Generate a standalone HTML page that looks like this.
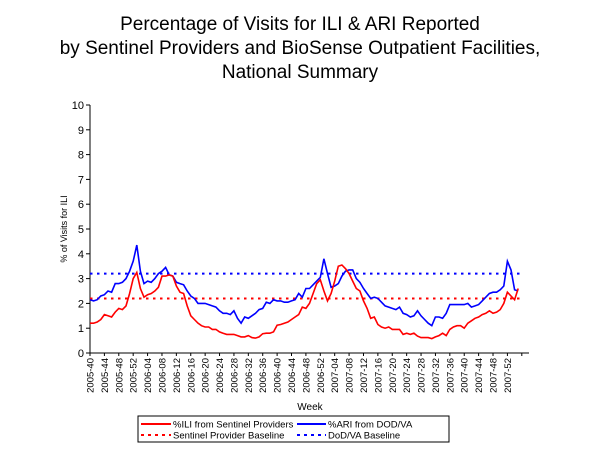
<!DOCTYPE html>
<html><head><meta charset="utf-8"><style>
body{margin:0;background:#fff;}
svg{display:block;font-family:"Liberation Sans",Arial,sans-serif;}
</style></head><body>
<svg id="chart" width="600" height="450">
<text x="300" y="30" font-size="19" text-anchor="middle">Percentage of Visits for ILI &amp; ARI Reported</text>
<text x="300" y="54" font-size="19" text-anchor="middle">by Sentinel Providers and BioSense Outpatient Facilities,</text>
<text x="300" y="78" font-size="19" text-anchor="middle">National Summary</text>
<text transform="translate(67,229) rotate(-90)" font-size="9" text-anchor="middle">% of Visits for ILI</text>
<text x="310" y="410" font-size="10" text-anchor="middle">Week</text>
<g id="plot"></g>
<g>
<rect x="138" y="416" width="311" height="26" fill="#fff" stroke="#000" stroke-width="1"/>
<line x1="141" y1="424" x2="171" y2="424" stroke="#f00" stroke-width="2"/>
<text x="173" y="427.5" font-size="9.5">%ILI from Sentinel Providers</text>
<line x1="297" y1="424" x2="326" y2="424" stroke="#00f" stroke-width="2"/>
<text x="328" y="427.5" font-size="9.5">%ARI from DOD/VA</text>
<line x1="141" y1="435" x2="171" y2="435" stroke="#f00" stroke-width="2" stroke-dasharray="3,4"/>
<text x="173" y="438.5" font-size="9.5">Sentinel Provider Baseline</text>
<line x1="297" y1="435" x2="326" y2="435" stroke="#00f" stroke-width="2" stroke-dasharray="3,4"/>
<text x="328" y="438.5" font-size="9.5">DoD/VA Baseline</text>
</g>
</svg>
<script>
const yTicks=[0,1,2,3,4,5,6,7,8,9,10];
const ili=[1.2,1.2,1.25,1.35,1.55,1.5,1.45,1.65,1.8,1.75,1.9,2.4,3.0,3.25,2.6,2.25,2.35,2.4,2.5,2.65,3.1,3.1,3.15,3.1,2.7,2.45,2.4,1.9,1.5,1.35,1.2,1.1,1.05,1.05,0.95,0.95,0.85,0.8,0.75,0.75,0.75,0.7,0.65,0.65,0.7,0.62,0.6,0.65,0.78,0.8,0.8,0.85,1.12,1.15,1.2,1.25,1.35,1.45,1.55,1.85,1.8,2.0,2.4,2.8,2.95,2.5,2.1,2.4,2.9,3.5,3.55,3.4,3.2,2.9,2.6,2.5,2.1,1.8,1.4,1.45,1.15,1.05,1.0,1.05,0.95,0.95,0.95,0.75,0.8,0.75,0.8,0.68,0.62,0.62,0.62,0.58,0.65,0.7,0.8,0.7,0.95,1.05,1.1,1.1,1.0,1.2,1.3,1.4,1.45,1.55,1.6,1.7,1.6,1.65,1.75,2.0,2.45,2.3,2.15,2.6];
const ari=[2.15,2.1,2.15,2.3,2.35,2.5,2.45,2.8,2.8,2.85,3.0,3.3,3.7,4.35,3.3,2.8,2.9,2.85,3.0,3.2,3.3,3.45,3.15,3.1,2.85,2.8,2.75,2.5,2.3,2.2,2.0,2.0,2.0,1.95,1.9,1.85,1.7,1.6,1.6,1.55,1.7,1.4,1.2,1.45,1.4,1.5,1.6,1.75,1.8,2.05,2.0,2.15,2.1,2.1,2.05,2.05,2.1,2.15,2.4,2.25,2.6,2.6,2.75,2.9,3.05,3.8,3.2,2.65,2.7,2.8,3.1,3.3,3.35,3.35,3.0,2.85,2.6,2.4,2.2,2.25,2.2,2.05,1.9,1.85,1.8,1.75,1.85,1.6,1.55,1.45,1.5,1.7,1.5,1.35,1.2,1.1,1.45,1.45,1.4,1.6,1.95,1.95,1.95,1.95,1.95,2.0,1.85,1.9,1.95,2.1,2.25,2.4,2.45,2.45,2.55,2.7,3.7,3.35,2.55,2.5];
const iliBaseline=[2.2];
const ariBaseline=[3.2];
const categories=[];
(function(){let y=2005,w=40;for(let i=0;i<122;i++){categories.push(y+'-'+String(w).padStart(2,'0'));w++;if(w>52){w=1;y++;}}})();

const NS='http://www.w3.org/2000/svg';
const X0=90,X1=529,Y0=353,Y1=105;
const step=(X1-X0)/categories.length;
const xs=i=>X0+i*step;
const ys=v=>Y0-(v/10)*(Y0-Y1);
const plot=document.getElementById('plot');
function mk(t,a){const e=document.createElementNS(NS,t);for(const k in a)e.setAttribute(k,a[k]);plot.appendChild(e);return e;}

let e=mk('line',{x1:X0,y1:Y1,x2:X0,y2:Y0,stroke:'#000'});


e=mk('line',{x1:X0,y1:Y0,x2:X1,y2:Y0,stroke:'#000'});


yTicks.forEach(v=>{
  const t=mk('line',{x1:X0-4,y1:ys(v),x2:X0,y2:ys(v),stroke:'#000'});
  
  
  const l=mk('text',{x:X0-6,y:ys(v)+4,'font-size':11,'text-anchor':'end'});
  l.textContent=v;
  
  
});
categories.forEach((c,i)=>{
  if(i%4!==0)return;
  const t=mk('line',{x1:xs(i),y1:Y0,x2:xs(i),y2:Y0+3,stroke:'#000'});
  
  
  if(i>116)return;
  const l=mk('text',{transform:'translate('+(xs(i)+3.5)+','+(Y0+5)+') rotate(-90)','font-size':9.5,'text-anchor':'end'});
  l.textContent=c;
  
  
});
e=mk('line',{x1:X0,y1:ys(iliBaseline[0]),x2:X1-6,y2:ys(iliBaseline[0]),stroke:'#f00','stroke-width':2,'stroke-dasharray':'2.5,4.5'});


e=mk('line',{x1:X0,y1:ys(ariBaseline[0]),x2:X1-6,y2:ys(ariBaseline[0]),stroke:'#00f','stroke-width':2,'stroke-dasharray':'2.5,4.5'});


function pts(a){return a.map((v,i)=>xs(i).toFixed(1)+','+ys(v).toFixed(1)).join(' ');}
e=mk('polyline',{points:pts(ari),fill:'none',stroke:'#00f','stroke-width':1.6});


e=mk('polyline',{points:pts(ili),fill:'none',stroke:'#f00','stroke-width':1.6});


</script>
</body></html>
